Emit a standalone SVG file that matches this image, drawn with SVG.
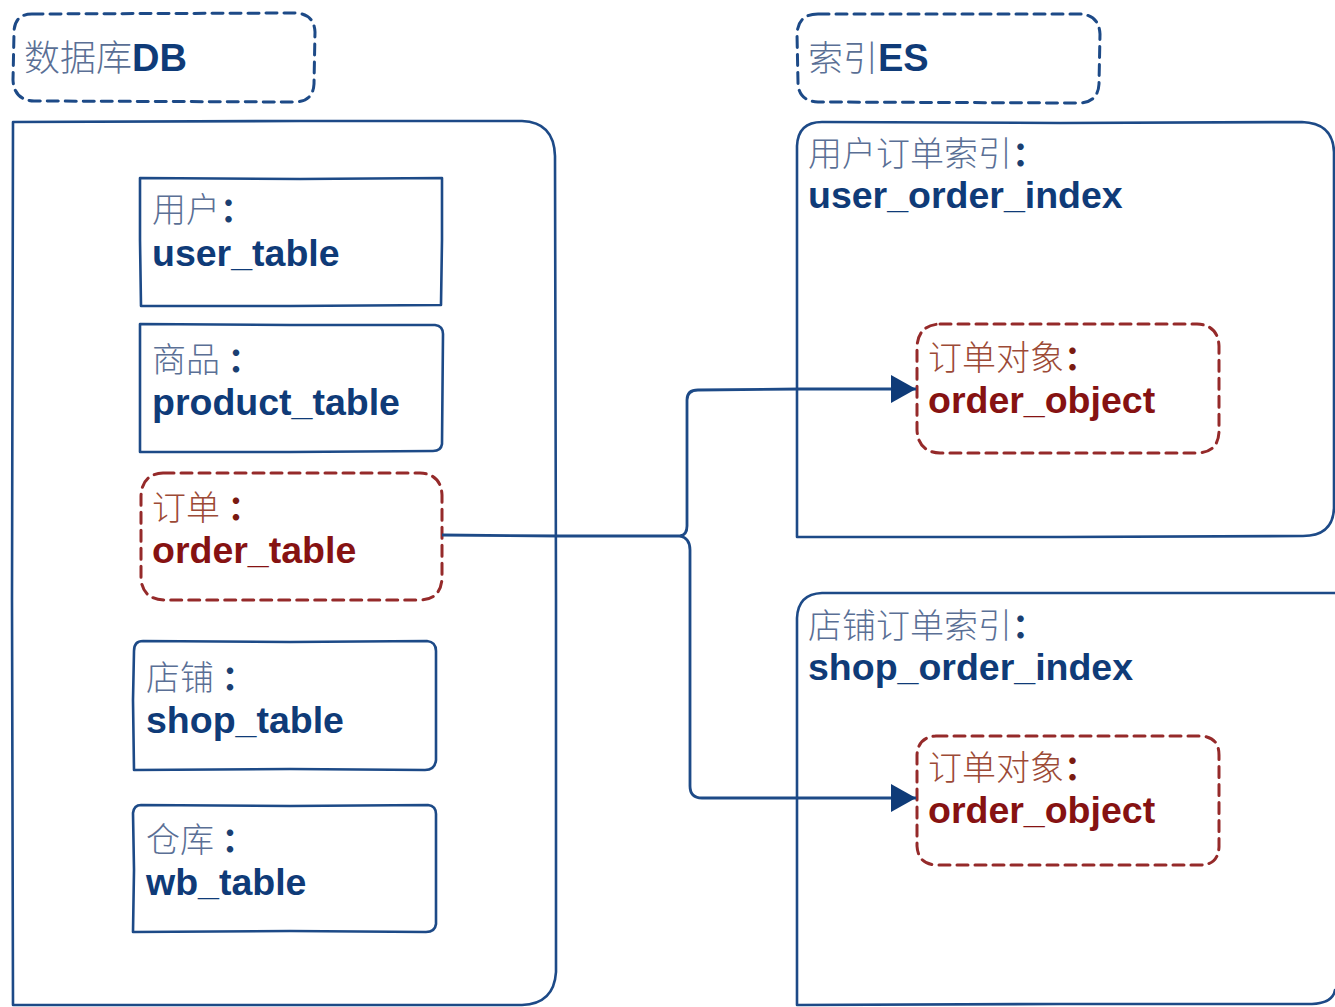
<svg xmlns="http://www.w3.org/2000/svg" width="1335" height="1007" viewBox="0 0 1335 1007">
  <style>
    .frame { fill: none; stroke: #1d4a87; stroke-width: 2.6; stroke-linejoin: round; stroke-linecap: round; }
    .dash-blue { fill: none; stroke: #1d4a87; stroke-width: 3; stroke-dasharray: 11 7; stroke-linecap: round; }
    .dash-red { fill: none; stroke: #952a2a; stroke-width: 3; stroke-dasharray: 11 7; stroke-linecap: round; }
    .cn { font-family: "Noto Sans CJK SC", "Noto Sans", sans-serif; font-weight: 300; font-size: 34px; fill: #5a6f95; }
    .cn-red { font-family: "Noto Sans CJK SC", "Noto Sans", sans-serif; font-weight: 300; font-size: 34px; fill: #9c4a36; }
    .colon { font-weight: bold; fill: #1a3f72; }
    .colon-red { font-weight: bold; fill: #7a1a10; }
    .en { font-family: "Liberation Sans", Arial, sans-serif; font-weight: bold; font-size: 37.5px; fill: #0f3b78; }
    .en-red { font-family: "Liberation Sans", Arial, sans-serif; font-weight: bold; font-size: 37.5px; fill: #861212; }
    .wire { fill: none; stroke: #1d4a87; stroke-width: 2.8; stroke-linejoin: round; }
  </style>
  <defs>
    <marker id="arrow" markerUnits="userSpaceOnUse" markerWidth="26" markerHeight="28" refX="25" refY="14" orient="auto">
      <path d="M0,0 L25,14 L0,28 Z" fill="#0f3b78"/>
    </marker>
  </defs>

  <rect width="1335" height="1007" fill="#ffffff"/>

  <!-- database side -->
  <g id="db-title">
    <path class="dash-blue" d="M32,14 L296,13 Q314,14 315,32 L314,84 Q313,102 294,102 L34,101 Q14,100 13,80 L14,33 Q14,14 32,14 Z"/>
    <text x="24" y="71" class="cn" style="font-size:36px">数据库<tspan class="en" style="font-size:38px">DB</tspan></text>
  </g>

  <g id="db">
    <path class="frame" d="M13,122 L300,121 L522,121 Q554,122 555,156 L556,600 L556,972 Q554,1004 522,1005 L13,1005 L12,600 Z"/>
  </g>

  <g id="user-table">
    <path class="frame" d="M140,178 L300,179 L442,178 L442,240 L441,305 L290,306 L141,306 L140,240 Z"/>
    <text x="152" y="222" class="cn">用户<tspan class="colon">：</tspan></text>
    <text x="152" y="266" class="en">user_table</text>
  </g>

  <g id="product-table">
    <path class="frame" d="M140,324 L290,325 L435,325 Q443,326 443,334 L442,444 Q441,451 433,451 L290,452 L140,452 L140,390 Z"/>
    <text x="152" y="372" class="cn">商品 <tspan class="colon">：</tspan></text>
    <text x="152" y="415" class="en">product_table</text>
  </g>

  <g id="order-table">
    <path class="dash-red" d="M163,473 L420,473 Q441,474 442,495 L442,578 Q441,600 419,600 L164,600 Q142,599 141,578 L141,496 Q142,474 163,473 Z"/>
    <text x="152" y="520" class="cn-red">订单 <tspan class="colon-red">：</tspan></text>
    <text x="152" y="563" class="en-red">order_table</text>
  </g>

  <g id="shop-table">
    <path class="frame" d="M143,641 L290,642 L427,641 Q436,642 436,651 L436,760 Q435,770 425,770 L290,769 L134,770 L133,700 L134,651 Q134,641 143,641 Z"/>
    <text x="146" y="690" class="cn">店铺 <tspan class="colon">：</tspan></text>
    <text x="146" y="733" class="en">shop_table</text>
  </g>

  <g id="wb-table">
    <path class="frame" d="M141,805 L290,806 L428,805 Q436,806 436,814 L436,924 Q435,932 426,932 L290,931 L133,932 L134,870 L133,813 Q134,805 141,805 Z"/>
    <text x="146" y="852" class="cn">仓库 <tspan class="colon">：</tspan></text>
    <text x="146" y="895" class="en">wb_table</text>
  </g>

  <!-- search index side -->
  <g id="es-title">
    <path class="dash-blue" d="M818,14 L1080,14 Q1099,15 1100,34 L1099,84 Q1098,103 1078,103 L818,102 Q798,101 798,82 L797,34 Q798,14 818,14 Z"/>
    <text x="808" y="71" class="cn" style="font-size:35px">索引<tspan class="en" style="font-size:38px">ES</tspan></text>
  </g>

  <g id="user-order-index">
    <path class="frame" d="M797,537 L797,340 L797,146 Q798,122 822,122 L1060,123 L1302,122 Q1333,123 1334,152 L1334,508 Q1333,536 1303,536 L1060,537 Z"/>
    <text x="808" y="166" class="cn">用户订单索引<tspan class="colon">：</tspan></text>
    <text x="808" y="208" class="en">user_order_index</text>
  </g>

  <g id="order-object-user">
    <path class="dash-red" d="M940,324 L1197,324 Q1218,325 1219,346 L1219,432 Q1218,453 1196,453 L940,453 Q918,452 917,430 L917,347 Q918,325 940,324 Z"/>
    <text x="928" y="370" class="cn-red">订单对象<tspan class="colon-red">：</tspan></text>
    <text x="928" y="413" class="en-red">order_object</text>
  </g>

  <g id="shop-order-index">
    <path class="frame" d="M1335,593 L1060,593 L822,593 Q798,594 797,618 L797,800 L797,1005 L1060,1004 L1312,1004 Q1333,1003 1335,990"/>
    <text x="808" y="638" class="cn">店铺订单索引<tspan class="colon">：</tspan></text>
    <text x="808" y="680" class="en">shop_order_index</text>
  </g>

  <g id="order-object-shop">
    <path class="dash-red" d="M936,736 L1201,736 Q1219,737 1219,755 L1219,847 Q1218,865 1200,865 L936,865 Q918,864 917,846 L917,755 Q918,737 936,736 Z"/>
    <text x="928" y="780" class="cn-red">订单对象<tspan class="colon-red">：</tspan></text>
    <text x="928" y="823" class="en-red">order_object</text>
  </g>

  <!-- sync connectors: order table feeds both index objects -->
  <g id="connectors">
    <path class="wire" d="M442,535 L560,536 L680,536 Q687,535 687,526 L687,400 Q687,390 698,390 L800,389 L916,389" marker-end="url(#arrow)"/>
    <path class="wire" d="M680,536 Q690,538 690,550 L690,786 Q690,798 702,798 L800,798 L916,798" marker-end="url(#arrow)"/>
  </g>
</svg>
